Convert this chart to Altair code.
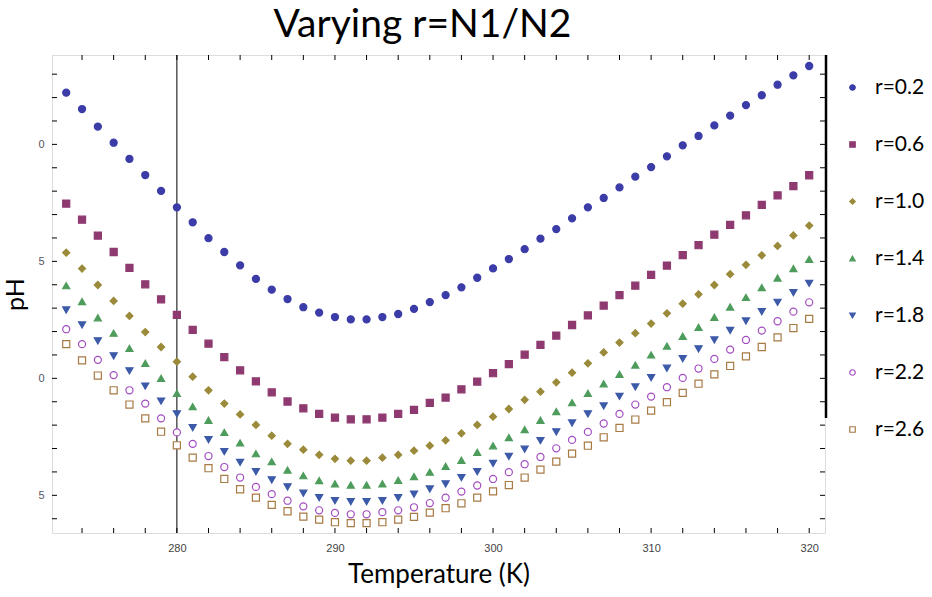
import altair as alt
import pandas as pd

# Temperature (K)
temps = list(range(273, 321))

series_names = ["r=0.2", "r=0.6", "r=1.0", "r=1.4", "r=1.8", "r=2.2", "r=2.6"]

r02 = [7.221, 7.151, 7.076, 7.007, 6.938, 6.869, 6.801, 6.731, 6.667, 6.599, 6.540, 6.483,
       6.425, 6.379, 6.339, 6.304, 6.281, 6.262, 6.252, 6.252, 6.262, 6.275, 6.297, 6.326,
       6.356, 6.389, 6.430, 6.470, 6.510, 6.552, 6.597, 6.638, 6.684, 6.731, 6.771, 6.816,
       6.862, 6.903, 6.949, 6.996, 7.036, 7.081, 7.123, 7.168, 7.210, 7.255, 7.295, 7.335]
r06 = [6.747, 6.678, 6.610, 6.540, 6.472, 6.402, 6.338, 6.271, 6.207, 6.148, 6.091, 6.034,
       5.987, 5.940, 5.901, 5.872, 5.848, 5.832, 5.825, 5.825, 5.832, 5.848, 5.865, 5.895,
       5.918, 5.953, 5.986, 6.022, 6.061, 6.101, 6.143, 6.183, 6.228, 6.269, 6.311, 6.356,
       6.396, 6.442, 6.482, 6.527, 6.569, 6.614, 6.656, 6.697, 6.741, 6.782, 6.822, 6.868]
r10 = [6.537, 6.469, 6.399, 6.331, 6.267, 6.198, 6.134, 6.071, 6.007, 5.949, 5.892, 5.846,
       5.801, 5.755, 5.720, 5.695, 5.673, 5.656, 5.648, 5.648, 5.661, 5.673, 5.691, 5.712,
       5.735, 5.765, 5.801, 5.836, 5.869, 5.908, 5.943, 5.983, 6.024, 6.064, 6.111, 6.153,
       6.193, 6.234, 6.278, 6.319, 6.359, 6.399, 6.445, 6.485, 6.526, 6.566, 6.611, 6.653]
r14 = [6.396, 6.328, 6.259, 6.193, 6.128, 6.064, 6.000, 5.936, 5.879, 5.821, 5.769, 5.724,
       5.678, 5.644, 5.608, 5.584, 5.563, 5.549, 5.544, 5.544, 5.549, 5.564, 5.580, 5.599,
       5.624, 5.650, 5.684, 5.712, 5.747, 5.781, 5.821, 5.858, 5.896, 5.936, 5.977, 6.017,
       6.057, 6.100, 6.138, 6.180, 6.218, 6.261, 6.305, 6.346, 6.388, 6.429, 6.469, 6.509]
r18 = [6.292, 6.228, 6.160, 6.096, 6.032, 5.967, 5.903, 5.848, 5.789, 5.738, 5.687, 5.641,
       5.601, 5.566, 5.536, 5.509, 5.490, 5.477, 5.473, 5.473, 5.477, 5.490, 5.505, 5.527,
       5.549, 5.576, 5.601, 5.636, 5.666, 5.697, 5.734, 5.771, 5.809, 5.848, 5.882, 5.923,
       5.963, 6.003, 6.043, 6.084, 6.126, 6.164, 6.205, 6.245, 6.285, 6.325, 6.366, 6.406]
r22 = [6.210, 6.146, 6.079, 6.014, 5.949, 5.892, 5.829, 5.769, 5.720, 5.668, 5.621, 5.576,
       5.536, 5.505, 5.477, 5.453, 5.436, 5.425, 5.419, 5.419, 5.428, 5.436, 5.449, 5.467,
       5.490, 5.516, 5.542, 5.570, 5.599, 5.633, 5.664, 5.701, 5.737, 5.771, 5.807, 5.848,
       5.888, 5.922, 5.962, 6.002, 6.042, 6.083, 6.123, 6.164, 6.204, 6.244, 6.285, 6.325]
r26 = [6.146, 6.077, 6.012, 5.949, 5.888, 5.829, 5.772, 5.714, 5.661, 5.616, 5.570, 5.526,
       5.490, 5.459, 5.432, 5.409, 5.396, 5.385, 5.381, 5.381, 5.385, 5.396, 5.408, 5.426,
       5.445, 5.466, 5.490, 5.517, 5.544, 5.576, 5.610, 5.644, 5.678, 5.712, 5.748, 5.788,
       5.824, 5.862, 5.898, 5.938, 5.977, 6.017, 6.053, 6.094, 6.134, 6.175, 6.215, 6.254]

series_values = [r02, r06, r10, r14, r18, r22, r26]

x_label_values = [280, 290, 300, 310, 320]
y_label_values = [5.5, 6.0, 6.5, 7.0]
x_tick_values = [274, 276, 278, 280, 282, 284, 286, 288, 290, 292, 294, 296, 298, 300,
                 302, 304, 306, 308, 310, 312, 314, 316, 318, 320]
y_tick_values = [5.4, 5.5, 5.6, 5.7, 5.8, 5.9, 6.0, 6.1, 6.2, 6.3, 6.4, 6.5, 6.6, 6.7,
                 6.8, 6.9, 7.0, 7.1, 7.2, 7.3]
ref_temp = [280]

colors = ["#3c3ca8", "#8e3a70", "#9a8a3a", "#4e9c5c", "#3c5aa8", "#a24cc0", "#a87a44"]
fills = ["#3c3ca8", "#8e3a70", "#9a8a3a", "#4e9c5c", "#3c5aa8", "white", "white"]
shapes = ["circle", "square", "diamond", "triangle-up", "triangle-down", "circle", "square"]

rows = []
for name, vals in zip(series_names, series_values):
    for t, v in zip(temps, vals):
        rows.append({"T": t, "pH": v, "series": name})
df = pd.DataFrame(rows)

W, H = 773, 478
x_scale = alt.Scale(domain=[272.1, 321.0], nice=False, zero=False)
y_scale = alt.Scale(domain=[5.339, 7.382], nice=False, zero=False)

leg = alt.Legend(title=None, orient="none", legendX=790, legendY=22,
                 labelFont="Lato", labelFontSize=21, labelColor="black",
                 labelOffset=12, rowPadding=35, symbolSize=30, padding=0,
                 symbolStrokeWidth=1.2)

points = alt.Chart(df).mark_point(opacity=1, size=50, strokeWidth=1.2).encode(
    x=alt.X("T:Q", scale=x_scale,
            axis=alt.Axis(values=x_label_values, ticks=False, grid=False, domain=False,
                          labelFont="Liberation Sans", labelFontSize=11, labelColor="#444",
                          labelPadding=9, title="Temperature (K)", titleFont="Lato",
                          titleFontSize=26, titleFontWeight="normal", titleColor="black",
                          titlePadding=8)),
    y=alt.Y("pH:Q", scale=y_scale,
            axis=alt.Axis(values=y_label_values, ticks=False, grid=False, domain=False,
                          labelExpr="slice(format(datum.value, '.1f'), -1)",
                          labelFont="Liberation Sans", labelFontSize=11, labelColor="#556",
                          labelPadding=8, title="pH", titleFont="Lato", titleFontSize=25,
                          titleFontWeight="normal", titleColor="black", titlePadding=9)),
    shape=alt.Shape("series:N", scale=alt.Scale(domain=series_names, range=shapes), legend=leg),
    stroke=alt.Stroke("series:N", scale=alt.Scale(domain=series_names, range=colors), legend=leg),
    fill=alt.Fill("series:N", scale=alt.Scale(domain=series_names, range=fills), legend=leg),
)

ref = alt.Chart(pd.DataFrame({"T": ref_temp})).mark_rule(color="black", strokeWidth=1).encode(
    x=alt.X("T:Q", scale=x_scale))

xt = pd.DataFrame({"T": x_tick_values})
yt = pd.DataFrame({"pH": y_tick_values})
tick_bottom = alt.Chart(xt).mark_rule(color="black").encode(
    x=alt.X("T:Q", scale=x_scale), y=alt.value(H), y2=alt.value(H - 5))
tick_top = alt.Chart(xt).mark_rule(color="black").encode(
    x=alt.X("T:Q", scale=x_scale), y=alt.value(0), y2=alt.value(5))
tick_left = alt.Chart(yt).mark_rule(color="black").encode(
    y=alt.Y("pH:Q", scale=y_scale), x=alt.value(0), x2=alt.value(5))
tick_right = alt.Chart(yt).mark_rule(color="black").encode(
    y=alt.Y("pH:Q", scale=y_scale), x=alt.value(W), x2=alt.value(W - 5))
thick_edge = alt.Chart(pd.DataFrame({"a": [0]})).mark_rule(color="black", strokeWidth=2.5).encode(
    x=alt.value(W + 1), y=alt.value(0), y2=alt.value(363))

chart = alt.layer(ref, tick_bottom, tick_top, tick_left, tick_right, thick_edge, points).properties(
    width=W, height=H,
    title=alt.TitleParams("Varying r=N1/N2", font="Lato", fontSize=39, fontWeight="normal",
                          color="black", anchor="middle", frame="group", dx=-16, offset=9),
    autosize=alt.AutoSizeParams(type="none"),
    padding={"left": 52, "top": 55, "right": 107, "bottom": 64},
).configure_view(stroke="black", strokeWidth=1.2).resolve_scale(
    x="shared", y="shared"
).configure(background="white")

chart.save("out.html", embed_options={"renderer": "svg", "actions": False})
